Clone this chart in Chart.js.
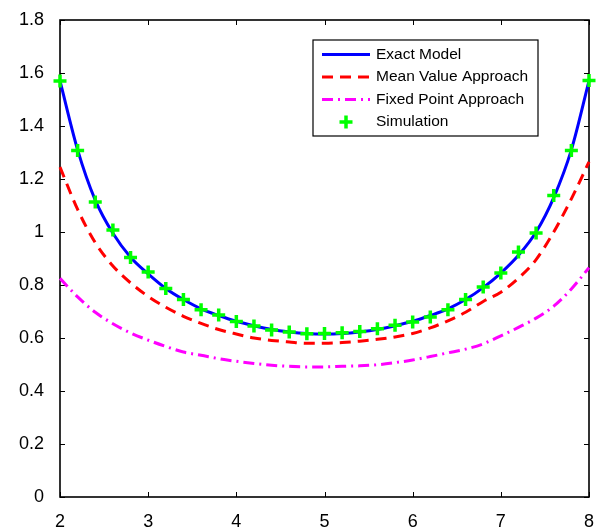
<!DOCTYPE html>
<html>
<head>
<meta charset="utf-8">
<script src="https://cdn.jsdelivr.net/npm/chart.js@4"></script>
<style>
  html, body { margin: 0; padding: 0; background: #fff; overflow: hidden; }
  #wrap { width: 600px; height: 550px; }
</style>
</head>
<body>
<div id="wrap"><canvas id="chart" width="600" height="550"></canvas></div>
<script>
// x positions (0.2 steps)
const xValues = [2.0, 2.2, 2.4, 2.6, 2.8, 3.0, 3.2, 3.4, 3.6, 3.8, 4.0, 4.2, 4.4, 4.6, 4.8, 5.0,
                 5.2, 5.4, 5.6, 5.8, 6.0, 6.2, 6.4, 6.6, 6.8, 7.0, 7.2, 7.4, 7.6, 7.8, 8.0];

const exactModel = [1.57, 1.31, 1.12, 0.995, 0.905, 0.842, 0.787, 0.745, 0.710, 0.685, 0.663, 0.646, 0.632, 0.623, 0.617, 0.615,
                    0.617, 0.623, 0.632, 0.646, 0.663, 0.685, 0.710, 0.745, 0.790, 0.845, 0.912, 1.00, 1.13, 1.31, 1.57];

const meanValue = [1.245, 1.085, 0.960, 0.872, 0.808, 0.757, 0.716, 0.682, 0.655, 0.632, 0.615, 0.600, 0.591, 0.585, 0.580, 0.580,
                   0.583, 0.588, 0.595, 0.604, 0.617, 0.638, 0.665, 0.697, 0.738, 0.773, 0.826, 0.896, 1.00, 1.125, 1.265];

const fixedPoint = [0.825, 0.755, 0.697, 0.654, 0.619, 0.592, 0.568, 0.547, 0.535, 0.522, 0.512, 0.504, 0.497, 0.493, 0.491, 0.491,
                    0.493, 0.495, 0.499, 0.507, 0.517, 0.530, 0.544, 0.558, 0.578, 0.608, 0.640, 0.675, 0.720, 0.785, 0.865];

const simulation = [1.57, 1.308, 1.113, 1.008, 0.904, 0.849, 0.787, 0.745, 0.707, 0.687, 0.662, 0.645, 0.630, 0.623, 0.616, 0.617,
                    0.620, 0.625, 0.635, 0.648, 0.660, 0.679, 0.707, 0.745, 0.792, 0.845, 0.925, 0.996, 1.138, 1.308, 1.572];

const xTicks = [2, 3, 4, 5, 6, 7, 8];
const yTicks = [0, 0.2, 0.4, 0.6, 0.8, 1, 1.2, 1.4, 1.6, 1.8];

const toPoints = vals => vals.map((v, i) => ({ x: xValues[i], y: v }));

// box with inward ticks on all four sides (matlab style)
const framePlugin = {
  id: "frame",
  beforeDatasetsDraw(chart) {
    const { ctx, chartArea: a, scales: { x, y } } = chart;
    ctx.save();
    ctx.strokeStyle = "#000";
    ctx.lineWidth = 1;
    ctx.beginPath();
    x.ticks.forEach(t => {
      const px = Math.round(x.getPixelForValue(t.value)) + 0.5;
      ctx.moveTo(px, a.bottom); ctx.lineTo(px, a.bottom - 5);
      ctx.moveTo(px, a.top); ctx.lineTo(px, a.top + 5);
    });
    y.ticks.forEach(t => {
      const py = Math.round(y.getPixelForValue(t.value)) + 0.5;
      ctx.moveTo(a.left, py); ctx.lineTo(a.left + 5, py);
      ctx.moveTo(a.right, py); ctx.lineTo(a.right - 5, py);
    });
    ctx.stroke();
    ctx.lineWidth = 1.6;
    ctx.strokeRect(a.left, a.top, a.right - a.left, a.bottom - a.top);
    ctx.restore();
  }
};

// legend box inside the plot
const legendPlugin = {
  id: "boxLegend",
  afterDraw(chart) {
    const { ctx } = chart;
    const left = 313, top = 40, w = 225, h = 96;
    ctx.save();
    ctx.fillStyle = "#fff";
    ctx.fillRect(left, top, w, h);
    ctx.strokeStyle = "#000";
    ctx.lineWidth = 1.2;
    ctx.strokeRect(left, top, w, h);
    ctx.font = "15.5px 'Liberation Sans', Arial, sans-serif";
    ctx.textBaseline = "middle";
    const legendOrder = [1, 2, 3, 0];
    legendOrder.forEach((di, row) => {
      const ds = chart.data.datasets[di];
      const cy = top + 14.5 + row * 22.5;
      if (ds.showLine === false) {
        ctx.strokeStyle = ds.pointBorderColor;
        ctx.lineWidth = ds.pointBorderWidth;
        const cx = 346, r = ds.pointRadius;
        ctx.beginPath();
        ctx.moveTo(cx - r, cy); ctx.lineTo(cx + r, cy);
        ctx.moveTo(cx, cy - r); ctx.lineTo(cx, cy + r);
        ctx.stroke();
      } else {
        ctx.strokeStyle = ds.borderColor;
        ctx.lineWidth = ds.borderWidth;
        ctx.setLineDash(ds.borderDash || []);
        ctx.beginPath();
        ctx.moveTo(322, cy); ctx.lineTo(370, cy);
        ctx.stroke();
        ctx.setLineDash([]);
      }
      ctx.fillStyle = "#000";
      ctx.fillText(ds.label, 376, cy);
    });
    ctx.restore();
  }
};

const tickFont = { family: "'Liberation Sans', Arial, sans-serif", size: 18 };

new Chart(document.getElementById("chart"), {
  type: "line",
  data: {
    datasets: [
      {
        label: "Simulation",
        data: toPoints(simulation),
        showLine: false,
        pointStyle: "cross",
        pointRadius: 6.5,
        pointBorderWidth: 3.5,
        pointBorderColor: "#00ff00",
        borderColor: "#00ff00",
        clip: false,
        order: 0
      },
      {
        label: "Exact Model",
        data: toPoints(exactModel),
        borderColor: "#0000ff",
        borderWidth: 3,
        pointRadius: 0,
        cubicInterpolationMode: "monotone",
        clip: false,
        order: 1
      },
      {
        label: "Mean Value Approach",
        data: toPoints(meanValue),
        borderColor: "#ff0000",
        borderWidth: 3,
        borderDash: [11, 7],
        pointRadius: 0,
        cubicInterpolationMode: "monotone",
        clip: false,
        order: 2
      },
      {
        label: "Fixed Point Approach",
        data: toPoints(fixedPoint),
        borderColor: "#ff00ff",
        borderWidth: 3,
        borderDash: [11, 5, 2, 5],
        pointRadius: 0,
        cubicInterpolationMode: "monotone",
        clip: false,
        order: 3
      }
    ]
  },
  options: {
    responsive: false,
    animation: false,
    events: [],
    layout: { padding: { top: 20, right: 11, left: 0, bottom: 0 } },
    plugins: { legend: { display: false }, tooltip: { enabled: false } },
    scales: {
      x: {
        type: "linear",
        min: 2,
        max: 8,
        afterBuildTicks: s => { s.ticks = xTicks.map(v => ({ value: v })); },
        afterFit: s => { s.height = 53; s.paddingLeft = 0; s.paddingRight = 0; },
        grid: { display: false, drawTicks: false },
        border: { display: false },
        ticks: { color: "#000", font: tickFont, padding: 14, maxRotation: 0 }
      },
      y: {
        type: "linear",
        min: 0,
        max: 1.8,
        afterBuildTicks: s => { s.ticks = yTicks.map(v => ({ value: v })); },
        afterFit: s => { s.width = 60; s.paddingTop = 0; s.paddingBottom = 0; },
        grid: { display: false, drawTicks: false },
        border: { display: false },
        ticks: {
          color: "#000",
          font: tickFont,
          padding: 16,
          callback: v => String(Number(v.toFixed(1)))
        }
      }
    }
  },
  plugins: [framePlugin, legendPlugin]
});
</script>
</body>
</html>
